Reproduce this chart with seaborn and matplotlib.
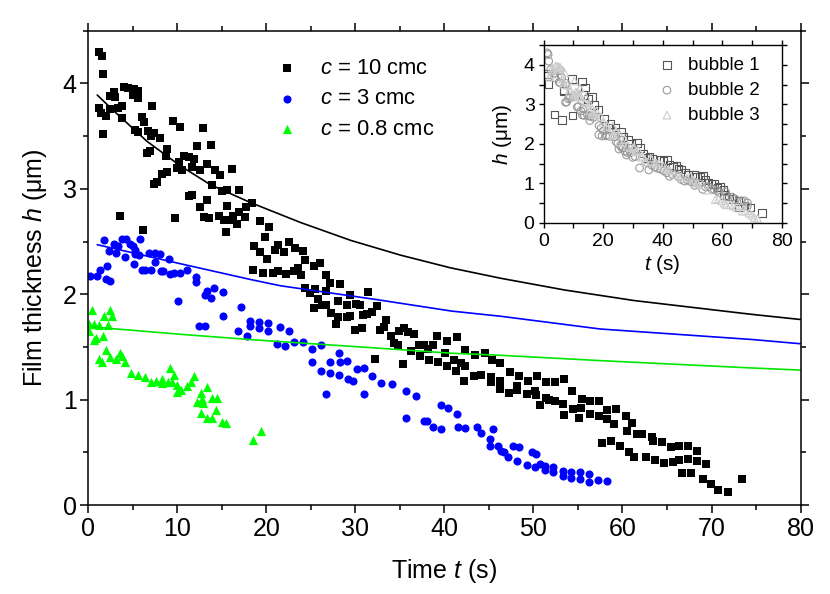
import matplotlib
matplotlib.use('Agg')
import matplotlib.pyplot as plt
import seaborn as sns
import pandas as pd

# c = 10 cmc : film thickness vs time, all three bubbles together (bubble id for the inset)
c10_t = [1.2, 1.5, 1.7, 1.2, 1.4, 2.0, 2.4, 1.6, 2.4, 2.85, 3.0, 3.3, 3.8, 3.8, 4.0, 4.5, 5.0, 5.1, 5.6, 5.6,
         3.6, 7.1, 6.0, 6.3, 5.2, 5.6, 6.7, 7.0, 7.4, 8.0, 8.8, 6.9, 6.6, 7.4, 7.7, 8.3, 8.8, 8.7, 9.5, 10.3,
         12.85, 12.2, 13.8, 10.8, 11.3, 11.9, 10.2, 10.0, 10.55, 11.6, 12.5, 13.3, 14.2, 14.8, 16.15, 13.9, 11.3, 11.7, 12.5, 13.3,
         15.0, 15.6, 16.9, 15.6, 14.7, 15.2, 13.0, 13.6, 15.9, 16.3, 16.9, 16.7, 17.7, 18.4, 17.65, 19.3, 20.3, 19.8, 15.5, 9.7,
         6.1, 18.6, 19.3, 20.1, 18.5, 19.6, 20.8, 21.3, 21.0, 22.0, 22.5, 23.2, 24.1, 24.3, 21.3, 22.2, 23.1, 23.5, 23.9, 25.3,
         26.0, 26.7, 27.2, 28.3, 24.3, 24.9, 25.5, 26.7, 25.3, 25.8, 26.25, 26.7, 27.3, 28.0, 28.1, 27.8, 29.1, 29.4, 29.1, 29.4,
         30.1, 30.5, 31.4, 32.4, 31.85, 31.3, 30.8, 29.9, 30.7, 33.4, 33.2, 32.75, 32.2, 34.0, 34.3, 34.8, 34.9, 35.5, 35.9, 36.6,
         35.3, 36.3, 37.1, 37.3, 37.75, 38.3, 38.7, 38.2, 39.2, 39.3, 40.1, 40.3, 40.3, 41.1, 41.4, 41.3, 41.9, 42.3, 42.3, 42.25,
         43.3, 43.4, 44.1, 44.6, 45.2, 45.3, 46.2, 45.2, 46.2, 46.2, 47.4, 48.4, 49.35, 50.4, 47.3, 48.2, 48.2, 49.3, 50.2, 50.3,
         50.7, 51.4, 51.7, 51.4, 52.4, 52.4, 53.4, 53.3, 53.4, 54.3, 54.4, 55.1, 55.3, 55.4, 56.3, 56.4, 57.35, 57.35, 58.3, 58.3,
         59.0, 59.3, 60.4, 61.1, 60.5, 61.6, 62.2, 63.3, 63.4, 64.4, 65.4, 66.3, 67.35, 68.4, 57.65, 58.7, 59.7, 60.7, 61.3, 62.6,
         63.7, 64.7, 65.65, 66.4, 67.4, 68.35, 69.4, 66.7, 67.7, 69.0, 69.9, 70.7, 71.8, 73.4]
c10_h = [4.30, 4.26, 4.09, 3.77, 3.72, 3.69, 3.76, 3.52, 3.88, 3.92, 3.87, 3.77, 3.79, 3.67, 3.97, 3.96, 3.89, 3.95, 3.93, 3.86,
         2.74, 3.79, 3.68, 3.63, 3.56, 3.54, 3.55, 3.50, 3.53, 3.48, 3.38, 3.36, 3.34, 3.05, 3.06, 3.14, 3.16, 3.31, 3.64, 3.59,
         3.58, 3.41, 3.42, 3.31, 3.30, 3.28, 3.25, 3.20, 3.18, 3.21, 3.18, 3.24, 3.18, 3.13, 3.19, 3.04, 2.93, 2.94, 2.83, 2.89,
         2.98, 2.99, 2.99, 2.84, 2.74, 2.70, 2.73, 2.72, 2.70, 2.74, 2.78, 2.67, 2.83, 2.87, 2.73, 2.69, 2.64, 2.54, 2.59, 2.72,
         2.61, 2.46, 2.40, 2.33, 2.23, 2.20, 2.20, 2.47, 2.42, 2.40, 2.50, 2.44, 2.41, 2.32, 2.22, 2.19, 2.22, 2.25, 2.18, 2.27,
         2.30, 2.18, 2.11, 2.10, 2.06, 2.01, 2.05, 2.03, 1.87, 1.95, 1.90, 1.90, 1.82, 1.94, 1.78, 1.72, 1.90, 1.99, 1.78, 1.79,
         1.91, 1.90, 2.02, 1.89, 1.83, 1.81, 1.80, 1.66, 1.68, 1.76, 1.69, 1.66, 1.39, 1.60, 1.54, 1.52, 1.65, 1.68, 1.64, 1.62,
         1.34, 1.46, 1.52, 1.41, 1.52, 1.38, 1.52, 1.48, 1.60, 1.36, 1.44, 1.56, 1.32, 1.38, 1.59, 1.27, 1.35, 1.32, 1.47, 1.18,
         1.22, 1.42, 1.23, 1.44, 1.21, 1.38, 1.35, 1.17, 1.18, 1.10, 1.26, 1.22, 1.18, 1.22, 1.06, 1.13, 1.09, 1.05, 1.08, 1.04,
         0.95, 1.02, 1.00, 1.17, 1.17, 0.99, 1.20, 0.96, 0.85, 1.08, 0.91, 0.83, 0.92, 1.01, 0.99, 0.86, 0.99, 0.84, 0.90, 0.82,
         0.77, 0.91, 0.84, 0.78, 0.70, 0.67, 0.67, 0.65, 0.61, 0.60, 0.55, 0.56, 0.56, 0.51, 0.59, 0.61, 0.56, 0.50, 0.46, 0.46,
         0.43, 0.40, 0.41, 0.43, 0.44, 0.42, 0.39, 0.30, 0.30, 0.25, 0.20, 0.14, 0.12, 0.25]
c10_bubble = [2, 2, 2, 1, 1, 3, 3, 1, 2, 3, 3, 2, 2, 2, 3, 3, 3, 3, 3, 2,
              1, 3, 2, 3, 2, 2, 3, 3, 2, 3, 3, 1, 1, 2, 2, 2, 2, 3, 1, 3,
              1, 3, 1, 3, 3, 3, 3, 2, 3, 3, 3, 1, 3, 1, 1, 3, 2, 2, 2, 2,
              3, 3, 1, 3, 2, 2, 2, 2, 2, 3, 3, 2, 3, 1, 3, 3, 1, 3, 2, 1,
              1, 2, 2, 2, 2, 2, 2, 3, 3, 1, 1, 3, 1, 3, 2, 2, 3, 3, 2, 3,
              1, 1, 3, 1, 2, 2, 3, 3, 2, 2, 2, 2, 2, 3, 2, 2, 3, 1, 2, 2,
              3, 3, 1, 1, 3, 3, 3, 2, 2, 1, 3, 3, 2, 3, 3, 2, 1, 1, 3, 1,
              2, 2, 3, 2, 3, 2, 3, 3, 1, 2, 3, 1, 2, 3, 1, 2, 3, 3, 1, 2,
              2, 1, 3, 1, 3, 1, 1, 2, 3, 2, 1, 1, 3, 1, 2, 3, 2, 2, 3, 2,
              2, 3, 3, 1, 1, 2, 1, 3, 2, 1, 2, 3, 2, 1, 1, 2, 1, 2, 1, 2,
              2, 1, 1, 2, 1, 2, 1, 2, 1, 2, 1, 2, 2, 2, 3, 3, 3, 3, 3, 3,
              3, 3, 1, 3, 1, 2, 1, 3, 3, 3, 3, 3, 3, 1]

# c = 3 cmc
c3_t = [0.15, 0.98, 1.35, 2.1, 2.03, 2.48, 1.8, 2.33, 2.85, 3.12, 3.34, 3.79, 4.28, 4.17, 4.73, 4.99, 5.22, 5.3, 5.71, 5.86,
        5.1, 6.08, 6.42, 7.06, 6.87, 7.44, 8.04, 7.44, 8.15, 8.34, 9.09, 9.16, 9.61, 10.25, 11.12, 12.13, 12.13, 10.1, 13.07, 13.3,
        13.82, 14.12, 15.17, 15.17, 12.43, 13.07, 17.13, 18.14, 18.14, 19.19, 19.19, 20.13, 20.2, 16.82, 17.8, 21.15, 21.56, 22.5, 22.08, 23.14,
        24.15, 25.13, 26.14, 25.09, 26.18, 27.19, 27.19, 28.17, 28.32, 29.07, 28.17, 29.14, 29.7, 30.2, 30.95, 31.85, 32.9, 34.14, 26.7, 30.99,
        35.64, 36.77, 35.64, 37.7, 38.08, 38.72, 39.58, 40.41, 41.43, 39.66, 41.54, 42.29, 43.64, 45.41, 44.09, 45.07, 45.15, 46.05, 47.74, 48.34,
        46.34, 46.68, 47.17, 48.19, 49.24, 49.8, 50.25, 50.22, 50.78, 51.27, 51.27, 52.24, 52.24, 53.3, 53.3, 54.23, 54.23, 55.21, 55.21, 56.19,
        56.19, 57.2, 58.22]
c3_h = [2.17, 2.17, 2.23, 2.27, 2.14, 2.13, 2.51, 2.41, 2.48, 2.39, 2.46, 2.52, 2.52, 2.35, 2.48, 2.46, 2.42, 2.38, 2.37, 2.52,
        2.29, 2.23, 2.23, 2.23, 2.39, 2.39, 2.38, 2.31, 2.22, 2.22, 2.33, 2.19, 2.20, 2.20, 2.23, 2.16, 2.12, 1.94, 1.99, 2.03,
        1.96, 2.06, 2.02, 1.79, 1.70, 1.70, 1.88, 1.75, 1.70, 1.74, 1.68, 1.73, 1.65, 1.65, 1.60, 1.53, 1.69, 1.65, 1.51, 1.55,
        1.55, 1.48, 1.52, 1.36, 1.27, 1.36, 1.25, 1.44, 1.36, 1.37, 1.23, 1.20, 1.18, 1.29, 1.30, 1.22, 1.16, 1.15, 1.05, 1.05,
        1.08, 1.03, 0.83, 0.80, 0.80, 0.74, 0.95, 0.92, 0.86, 0.72, 0.74, 0.73, 0.74, 0.72, 0.68, 0.63, 0.56, 0.56, 0.56, 0.55,
        0.51, 0.50, 0.46, 0.42, 0.38, 0.50, 0.48, 0.36, 0.39, 0.37, 0.33, 0.36, 0.31, 0.32, 0.28, 0.31, 0.26, 0.31, 0.25, 0.29,
        0.22, 0.24, 0.23]

# c = 0.8 cmc
c08_t = [0.41, 0.04, 0.6, 1.17, 0.04, 0.6, 0.9, 1.65, 1.73, 2.4, 2.7, 2.21, 1.17, 1.54, 1.99, 2.48, 3.16, 3.61, 3.79, 4.17,
         4.85, 5.6, 6.42, 6.99, 7.55, 8.3, 8.3, 9.16, 9.61, 8.94, 9.43, 9.99, 10.37, 11.12, 11.49, 11.87, 9.99, 13.3, 12.62, 13.94,
         14.42, 12.24, 12.81, 12.92, 12.62, 13.37, 13.94, 14.31, 15.06, 15.44, 18.55, 19.38]
c08_h = [1.85, 1.72, 1.72, 1.71, 1.65, 1.57, 1.58, 1.60, 1.79, 1.85, 1.79, 1.71, 1.39, 1.36, 1.47, 1.40, 1.39, 1.44, 1.41, 1.36,
         1.25, 1.23, 1.21, 1.17, 1.18, 1.20, 1.16, 1.30, 1.23, 1.17, 1.17, 1.14, 1.09, 1.13, 1.17, 1.22, 1.07, 1.12, 1.06, 1.02,
         1.02, 0.98, 1.01, 0.97, 0.87, 0.83, 0.83, 0.90, 0.79, 0.78, 0.62, 0.70]

# model curves
fit10_t = [1, 2.85, 6.6, 10.3, 13.7, 18.2, 23.85, 29.5, 35.1, 40.7, 46.4, 53.5, 61.3, 74.4, 80]
fit10_h = [3.89, 3.74, 3.45, 3.22, 3.04, 2.87, 2.68, 2.51, 2.37, 2.25, 2.15, 2.04, 1.94, 1.81, 1.76]
fit3_t = [1, 10.3, 18.2, 21.6, 32.3, 40.8, 46.4, 57.5, 74.6, 80]
fit3_h = [2.47, 2.29, 2.14, 2.08, 1.95, 1.84, 1.79, 1.67, 1.57, 1.53]
fit08_t = [0.4, 10.3, 18.2, 21.6, 32.3, 40.8, 46.4, 57.5, 74.6, 80]
fit08_h = [1.69, 1.62, 1.57, 1.55, 1.49, 1.44, 1.42, 1.37, 1.30, 1.28]

bubble_names = {1: 'bubble 1', 2: 'bubble 2', 3: 'bubble 3'}
bubble_colors = {1: '#555555', 2: '#9a9a9a', 3: '#cccccc'}
bubble_markers = {1: 's', 2: 'o', 3: '^'}

sns.set_style('ticks', {'axes.edgecolor': 'black', 'xtick.color': 'black', 'ytick.color': 'black',
                        'text.color': 'black', 'axes.labelcolor': 'black'})
plt.rcParams['font.family'] = ['Liberation Sans', 'DejaVu Sans']
plt.rcParams['mathtext.fontset'] = 'custom'
plt.rcParams['mathtext.rm'] = 'Liberation Sans'
plt.rcParams['mathtext.it'] = 'Liberation Sans:italic'
plt.rcParams['axes.linewidth'] = 1.1

c10 = pd.DataFrame({'t': c10_t, 'h': c10_h, 'bubble': c10_bubble})
c3 = pd.DataFrame({'t': c3_t, 'h': c3_h})
c08 = pd.DataFrame({'t': c08_t, 'h': c08_h})

fig = plt.figure(figsize=(8.3, 5.94), dpi=100)
ax = fig.add_axes([0.1064, 0.1498, 0.8581, 0.7985])

sns.lineplot(x=fit10_t, y=fit10_h, color='black', lw=1.2, ax=ax, sort=False, estimator=None)
sns.lineplot(x=fit3_t, y=fit3_h, color='#0000ff', lw=1.2, ax=ax, sort=False, estimator=None)
sns.lineplot(x=fit08_t, y=fit08_h, color='#00e600', lw=1.2, ax=ax, sort=False, estimator=None)

sns.scatterplot(data=c10, x='t', y='h', marker='s', color='black', s=26, linewidth=0, ax=ax,
                label=r'$c$ = 10 cmc')
sns.scatterplot(data=c3, x='t', y='h', marker='o', color='#0000ff', s=34, linewidth=0, ax=ax,
                label=r'$c$ = 3 cmc')
sns.scatterplot(data=c08, x='t', y='h', marker='^', color='#00ff00', s=44, linewidth=0, ax=ax,
                label=r'$c$ = 0.8 cmc')

ax.set_xlim(0, 80)
ax.set_ylim(0, 4.5)
ax.set_xticks(range(0, 81, 10))
ax.set_xticks(range(5, 80, 10), minor=True)
ax.set_yticks([0, 1, 2, 3, 4])
ax.set_yticks([0.5, 1.5, 2.5, 3.5, 4.5], minor=True)
ax.tick_params(which='both', direction='out', top=True, right=True, width=1.1, labelsize=18)
ax.tick_params(which='major', length=5.5, pad=3)
ax.tick_params(which='minor', length=3.5)
ax.set_xlabel(r'Time $t$ (s)', fontsize=18, labelpad=12)
ax.set_ylabel(r'Film thickness $h$ ($\mathrm{\mu}$m)', fontsize=18, labelpad=10)
for sp in ax.spines.values():
    sp.set_visible(True)

ax.legend(loc='upper left', bbox_to_anchor=(0.2636, 0.9425), frameon=False, fontsize=15.8,
          handlelength=1.0, handletextpad=1.0, labelspacing=0.43, borderpad=0, borderaxespad=0)

# inset with the three bubbles at c = 10 cmc
ins = fig.add_axes([0.655, 0.6246, 0.2871, 0.2997])
for b in [1, 2, 3]:
    sub = c10[c10['bubble'] == b]
    sns.scatterplot(data=sub, x='t', y='h', marker=bubble_markers[b], s=30, color=bubble_colors[b],
                    facecolor='none', edgecolor=bubble_colors[b], linewidth=0.8, ax=ins,
                    label=bubble_names[b])
ins.set_xlim(0, 80)
ins.set_ylim(0, 4.5)
ins.set_xticks([0, 20, 40, 60, 80])
ins.set_xticks([10, 30, 50, 70], minor=True)
ins.set_yticks([0, 1, 2, 3, 4])
ins.set_yticks([0.5, 1.5, 2.5, 3.5, 4.5], minor=True)
ins.tick_params(which='both', direction='out', top=True, right=True, width=1.0, length=3.5,
                labelsize=14)
ins.tick_params(axis='x', pad=4)
ins.tick_params(axis='y', pad=3)
ins.set_xlabel(r'$t$ (s)', fontsize=15, labelpad=2)
ins.set_ylabel(r'$h$ ($\mathrm{\mu}$m)', fontsize=15, labelpad=7)
for sp in ins.spines.values():
    sp.set_visible(True)
    sp.set_linewidth(1.0)
ins.legend(loc='upper left', bbox_to_anchor=(0.478, 0.9326), frameon=False, fontsize=13.5,
           handlelength=1.0, handletextpad=0.62, labelspacing=0.42, borderpad=0, borderaxespad=0)

fig.savefig('out.png', dpi=100)
